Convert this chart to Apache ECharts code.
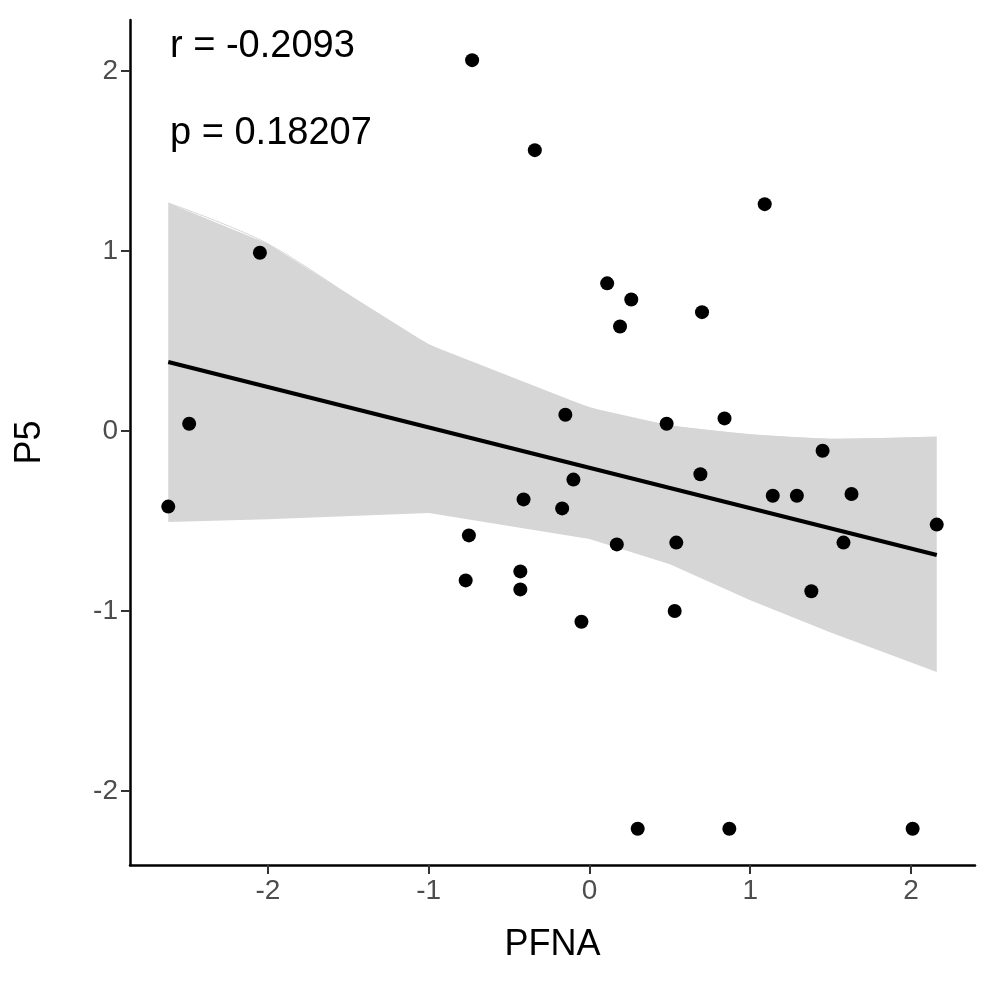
<!DOCTYPE html>
<html><head><meta charset="utf-8">
<script src="https://cdn.jsdelivr.net/npm/echarts@6/dist/echarts.min.js"></script>
<style>html,body{margin:0;background:#fff}#c{width:1000px;height:1000px}</style>
</head><body><div id="c"></div>
<script>
var pfna = [-2.62,-2.49,-2.05,-0.73,-0.34,-0.75,-0.77,-0.43,-0.43,-0.41,-0.17,-0.15,-0.10,-0.05,0.11,0.19,0.17,0.26,0.30,0.48,0.53,0.54,0.70,0.69,0.84,0.87,1.09,1.14,1.29,1.45,1.38,1.58,1.63,2.01,2.16];
var p5   = [-0.42,0.04,0.99,2.06,1.56,-0.58,-0.83,-0.78,-0.88,-0.38,-0.43,0.09,-0.27,-1.06,0.82,0.58,-0.63,0.73,-2.21,0.04,-1.00,-0.62,0.66,-0.24,0.07,-2.21,1.26,-0.36,-0.36,-0.11,-0.89,-0.62,-0.35,-2.21,-0.52];
var fitX = [-2.62,2.16];
var fitY = [0.383,-0.689];
var bandX = [-2.62,-2,-1,0,0.5,1,1.5,2.16];
var bandUpper = [1.267,1.04,0.48,0.13,0.03,-0.02,-0.045,-0.033];
var bandLower = [-0.506,-0.49,-0.455,-0.6,-0.74,-0.94,-1.12,-1.339];
var ticks = [-2,-1,0,1,2];

var chart = echarts.init(document.getElementById('c'));
var lab = {fontSize:28,color:'#4d4d4d',fontFamily:'Liberation Sans'};
function axis(name, min, max, gap) {
  return {type:'value',min:min,max:max,name:name,nameLocation:'middle',nameGap:gap,
    nameTextStyle:{fontSize:36,color:'#000',fontFamily:'Liberation Sans'},
    axisLine:{show:true,onZero:false,lineStyle:{color:'#000',width:2.5}},
    axisTick:{show:true,length:9,lineStyle:{color:'#333',width:2},customValues:ticks},
    axisLabel:Object.assign({margin:12,customValues:ticks},lab),
    splitLine:{show:false}};
}
chart.setOption({
  animation:false,
  grid:{left:130,top:20,right:25,bottom:135},
  xAxis:axis('PFNA',-2.858,2.398,62),
  yAxis:axis('P5',-2.411,2.283,82),
  graphic:[
    {type:'text',left:170,top:28,style:{text:'r = -0.2093',fontSize:38,fill:'#000',fontFamily:'Liberation Sans'}},
    {type:'text',left:170,top:115,style:{text:'p = 0.18207',fontSize:38,fill:'#000',fontFamily:'Liberation Sans'}}
  ],
  series:[
    {type:'custom',data:[0],silent:true,z:1,
      renderItem:function(params, api){
        var up = bandX.map(function(x,i){return api.coord([x,bandUpper[i]]);});
        var lo = bandX.map(function(x,i){return api.coord([x,bandLower[i]]);}).reverse();
        return {type:'group',children:[
          {type:'polyline',shape:{points:up,smooth:0.3},style:{fill:'none',stroke:'#d6d6d6'}},
          {type:'polygon',shape:{points:up.concat(lo),smooth:0},style:{fill:'#d6d6d6'}}
        ]};
      }},
    {type:'line',symbol:'none',z:2,lineStyle:{color:'#000',width:4},
      data:fitX.map(function(x,i){return [x,fitY[i]];})},
    {type:'scatter',symbolSize:14,z:3,itemStyle:{color:'#000',opacity:1},
      data:pfna.map(function(x,i){return [x,p5[i]];})}
  ]
});
</script></body></html>
